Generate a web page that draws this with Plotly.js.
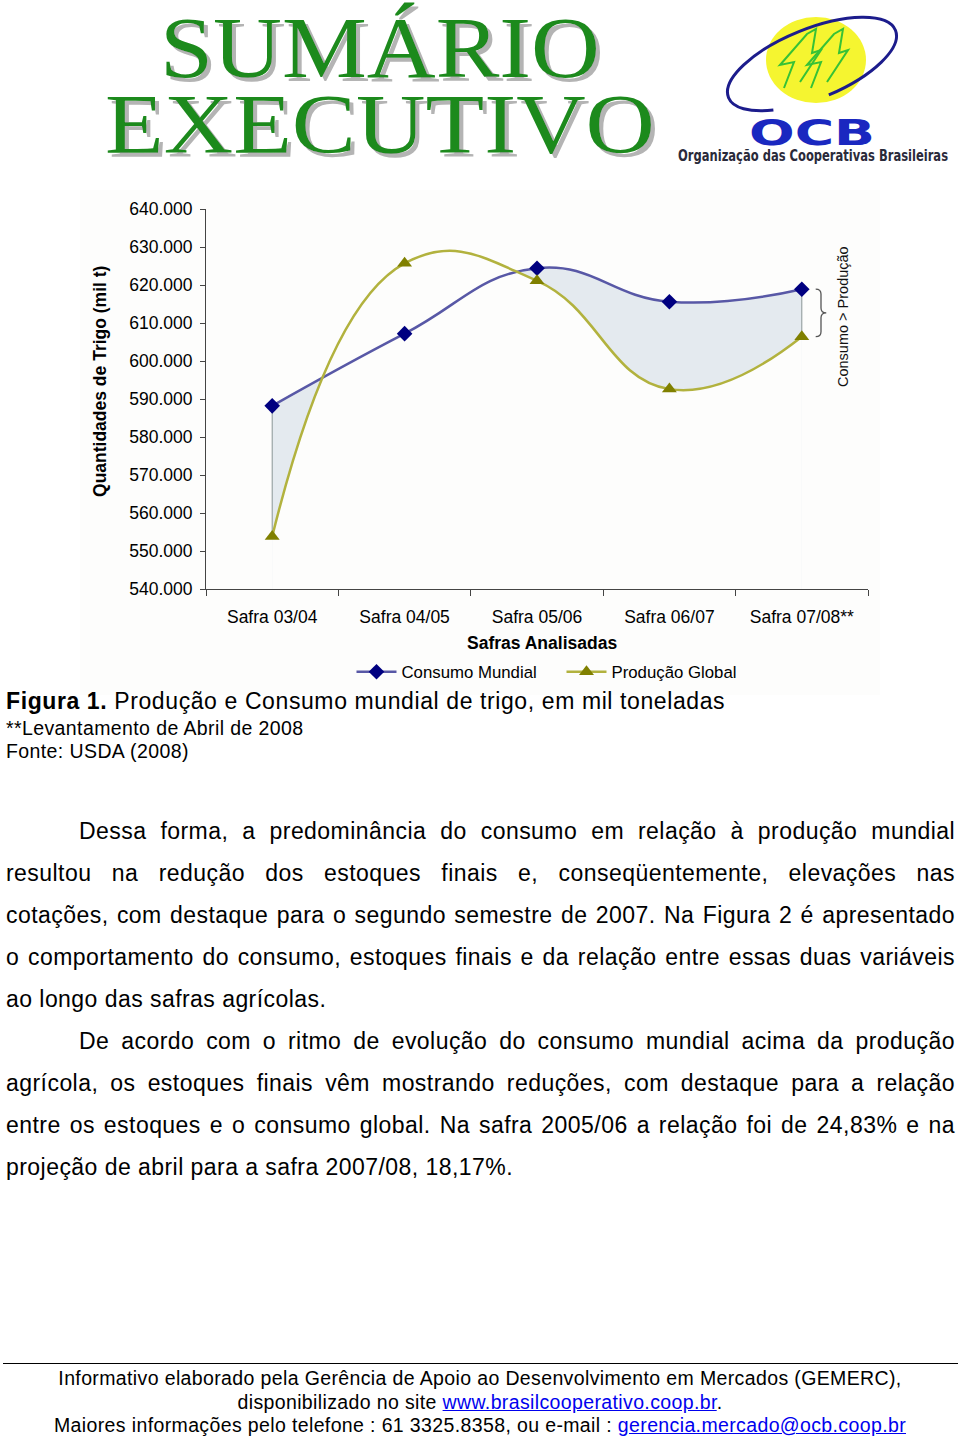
<!DOCTYPE html>
<html>
<head>
<meta charset="utf-8">
<script src="https://cdn.plot.ly/plotly-3.0.1.min.js"></script>
<style>
  html, body { margin:0; padding:0; background:#ffffff; }
  body { width:960px; height:1441px; position:relative; overflow:hidden;
         font-family:"Liberation Sans", Arial, Helvetica, sans-serif; color:#000; }
  .abs { position:absolute; }
  #chart { left:80px; top:190px; width:800px; height:505px; }
  .cap1 { left:6px; top:688px; font-size:23px; letter-spacing:0.6px; white-space:nowrap; }
  .cap2 { left:6px; top:717px; font-size:19.5px; letter-spacing:0.4px; white-space:nowrap; }
  .cap3 { left:6px; top:740px; font-size:19.5px; letter-spacing:0.4px; white-space:nowrap; }
  .body { left:6px; top:810px; width:949px; font-size:23px; letter-spacing:0.45px; line-height:42px; }
  .body .j { text-align:justify; text-align-last:justify; }
  .body .ind { padding-left:73px; }
  .body .l { text-align:left; }
  .rule { left:3px; top:1363px; width:955px; height:0; border-top:1.3px solid #000; }
  .foot { left:0; top:1367px; width:960px; text-align:center; font-size:19.5px; letter-spacing:0.37px; line-height:23.5px; }
  .foot a { color:#0000ee; text-decoration:underline; }
</style>
</head>
<body>

<!-- Header -->
<svg class="abs" style="left:0;top:0" width="960" height="175" xmlns="http://www.w3.org/2000/svg">
  <defs>
    <filter id="sh" x="-5%" y="-5%" width="115%" height="125%">
      <feDropShadow dx="4" dy="4" stdDeviation="0.7" flood-color="#b4b4b4" flood-opacity="1"/>
    </filter>
  </defs>
  <g font-family="'Liberation Serif','Times New Roman',serif" fill="#1f8a1f" filter="url(#sh)">
    <text x="160" y="77" font-size="87" textLength="440" lengthAdjust="spacingAndGlyphs">SUMÁRIO</text>
    <text x="105" y="153" font-size="85" textLength="550" lengthAdjust="spacingAndGlyphs">EXECUTIVO</text>
  </g>
  <!-- OCB logo -->
  <ellipse cx="816" cy="60" rx="50" ry="43" fill="#f5f530"/>
  <ellipse cx="812" cy="64" rx="90" ry="35" fill="none" stroke="#1c1c8c" stroke-width="3"
           transform="rotate(-22 812 64)" pathLength="100" stroke-dasharray="86 14" stroke-dashoffset="-38"/>
  <g fill="none" stroke="#36c236" stroke-width="2">
    <polyline points="784,88 794,62 780,65 807,34 816,29 812,53 821,50 800,82"/>
    <polyline points="811,88 821,62 807,65 834,34 843,29 839,53 848,50 827,82"/>
  </g>
  <text x="749" y="145" textLength="126" lengthAdjust="spacingAndGlyphs"
        font-family="'DejaVu Sans',sans-serif" font-weight="bold" font-size="36" fill="#1a28c0">OCB</text>
  <g transform="translate(678 161) scale(1 1.25)">
    <text x="0" y="0" textLength="270" lengthAdjust="spacingAndGlyphs"
          font-family="'DejaVu Sans Condensed','DejaVu Sans',sans-serif" font-weight="bold" font-size="12" fill="#2a2a3a">Organização das Cooperativas Brasileiras</text>
  </g>
</svg>

<div id="chart" class="abs"></div>

<div class="abs cap1"><b>Figura 1.</b> Produção e Consumo mundial de trigo, em mil toneladas</div>
<div class="abs cap2">**Levantamento de Abril de 2008</div>
<div class="abs cap3">Fonte: USDA (2008)</div>

<div class="abs body">
  <div class="j ind">Dessa forma, a predominância do consumo em relação à produção mundial</div>
  <div class="j">resultou na redução dos estoques finais e, conseqüentemente, elevações nas</div>
  <div class="j">cotações, com destaque para o segundo semestre de 2007. Na Figura 2 é apresentado</div>
  <div class="j">o comportamento do consumo, estoques finais e da relação entre essas duas variáveis</div>
  <div class="l">ao longo das safras agrícolas.</div>
  <div class="j ind">De acordo com o ritmo de evolução do consumo mundial acima da produção</div>
  <div class="j">agrícola, os estoques finais vêm mostrando reduções, com destaque para a relação</div>
  <div class="j">entre os estoques e o consumo global. Na safra 2005/06 a relação foi de 24,83% e na</div>
  <div class="l">projeção de abril para a safra 2007/08, 18,17%.</div>
</div>

<div class="abs rule"></div>
<div class="abs foot">
Informativo elaborado pela Gerência de Apoio ao Desenvolvimento em Mercados (GEMERC),<br>
disponibilizado no site <a>www.brasilcooperativo.coop.br</a>.<br>
Maiores informações pelo telefone : 61 3325.8358, ou e-mail : <a>gerencia.mercado@ocb.coop.br</a>
</div>

<script>
// ---- Data (mil t) ----
var safras = ["Safra 03/04", "Safra 04/05", "Safra 05/06", "Safra 06/07", "Safra 07/08**"];
var consumoMundial = [588200, 607200, 624400, 615600, 618900];
var producaoGlobal = [553800, 625700, 621100, 592600, 606400];
var yTickValues = [540000, 550000, 560000, 570000, 580000, 590000, 600000, 610000, 620000, 630000, 640000];

var BG = "#fdfdfc";
var last = safras.length - 1;
var SMOOTH = 1.3;

var traces = [
  // fill under consumption (light blue)
  { x: safras, y: consumoMundial, type: "scatter", mode: "lines",
    line: { shape: "spline", smoothing: SMOOTH, width: 0, color: "rgba(0,0,0,0)" },
    fill: "tozeroy", fillcolor: "#e4eaef", showlegend: false, hoverinfo: "skip" },
  // mask under production (background colour) -> blue stays only where consumo > produção
  { x: safras, y: producaoGlobal, type: "scatter", mode: "lines",
    line: { shape: "spline", smoothing: SMOOTH, width: 0, color: "rgba(0,0,0,0)" },
    fill: "tozeroy", fillcolor: BG, showlegend: false, hoverinfo: "skip" },
  // vertical edges of the shaded area
  { x: [safras[0], safras[0]], y: [consumoMundial[0], producaoGlobal[0]], type: "scatter", mode: "lines",
    line: { color: "#8a9696", width: 1 }, showlegend: false, hoverinfo: "skip" },
  { x: [safras[last], safras[last]], y: [consumoMundial[last], producaoGlobal[last]], type: "scatter", mode: "lines",
    line: { color: "#8a9696", width: 1 }, showlegend: false, hoverinfo: "skip" },
  // series
  { x: safras, y: consumoMundial, type: "scatter", mode: "lines+markers", name: "Consumo Mundial",
    line: { shape: "spline", smoothing: SMOOTH, color: "#5858a6", width: 2.5 },
    marker: { symbol: "diamond", size: 12, color: "#000080" } },
  { x: safras, y: producaoGlobal, type: "scatter", mode: "lines+markers", name: "Produção Global",
    line: { shape: "spline", smoothing: SMOOTH, color: "#b2b23e", width: 2.5 },
    marker: { symbol: "triangle-up", size: 13, color: "#808000" } }
];

var braceTop = consumoMundial[last], braceBot = producaoGlobal[last];
var braceMid = (braceTop + braceBot) / 2, d = 1300;
var bx0 = 0.921, bx1 = 0.929, bx2 = 0.937;
var bracePath = "M " + bx0 + "," + braceTop +
  " Q " + bx1 + "," + braceTop + " " + bx1 + "," + (braceTop - d) +
  " L " + bx1 + "," + (braceMid + d) +
  " Q " + bx1 + "," + braceMid + " " + bx2 + "," + braceMid +
  " Q " + bx1 + "," + braceMid + " " + bx1 + "," + (braceMid - d) +
  " L " + bx1 + "," + (braceBot + d) +
  " Q " + bx1 + "," + braceBot + " " + bx0 + "," + braceBot;

var layout = {
  width: 800, height: 505,
  margin: { l: 126, r: 12, t: 19, b: 106, autoexpand: false },
  paper_bgcolor: BG, plot_bgcolor: BG,
  separators: ",.",
  font: { family: "'Liberation Sans', Arial, sans-serif", size: 17.5, color: "#000" },
  xaxis: {
    type: "category", range: [-0.5, 4.5], tickson: "boundaries",
    ticks: "outside", ticklen: 6, tickcolor: "#444", tickwidth: 1,
    showline: true, linecolor: "#444", linewidth: 1, showgrid: false, zeroline: false,
    ticklabelstandoff: 12, tickfont: { size: 17.5 }, automargin: false
  },
  yaxis: {
    range: [540000, 640000], tickvals: yTickValues, tickformat: ",.0f",
    ticks: "outside", ticklen: 5, tickcolor: "#444", tickwidth: 1,
    showline: true, linecolor: "#444", linewidth: 1, showgrid: false, zeroline: false,
    ticklabelstandoff: 4, tickfont: { size: 17.5 }, automargin: false
  },
  showlegend: true,
  legend: { orientation: "h", x: 0.537, xanchor: "center", y: -0.218, yanchor: "middle",
            entrywidth: 155, entrywidthmode: "pixels", itemwidth: 40,
            font: { size: 16.8 }, bgcolor: "rgba(0,0,0,0)", traceorder: "normal" },
  shapes: [ { type: "path", xref: "paper", yref: "y", path: bracePath,
              line: { color: "#555", width: 1.3 } } ],
  annotations: [
    { text: "<b>Safras Analisadas</b>", xref: "paper", yref: "paper", x: 0.508, y: -0.142,
      xanchor: "center", yanchor: "middle", showarrow: false, font: { size: 17.5 } },
    { text: "<b>Quantidades de Trigo (mil t)</b>", xref: "paper", yref: "paper", x: -0.16, y: 0.545,
      xanchor: "center", yanchor: "middle", textangle: -90, showarrow: false, font: { size: 17.5 } },
    { text: "Consumo > Produção", xref: "paper", yref: "paper", x: 0.962, y: 0.718,
      xanchor: "center", yanchor: "middle", textangle: -90, showarrow: false, font: { size: 14.5, color: "#111" } }
  ]
};

Plotly.newPlot("chart", traces, layout, { displayModeBar: false, staticPlot: true });
</script>
</body>
</html>
